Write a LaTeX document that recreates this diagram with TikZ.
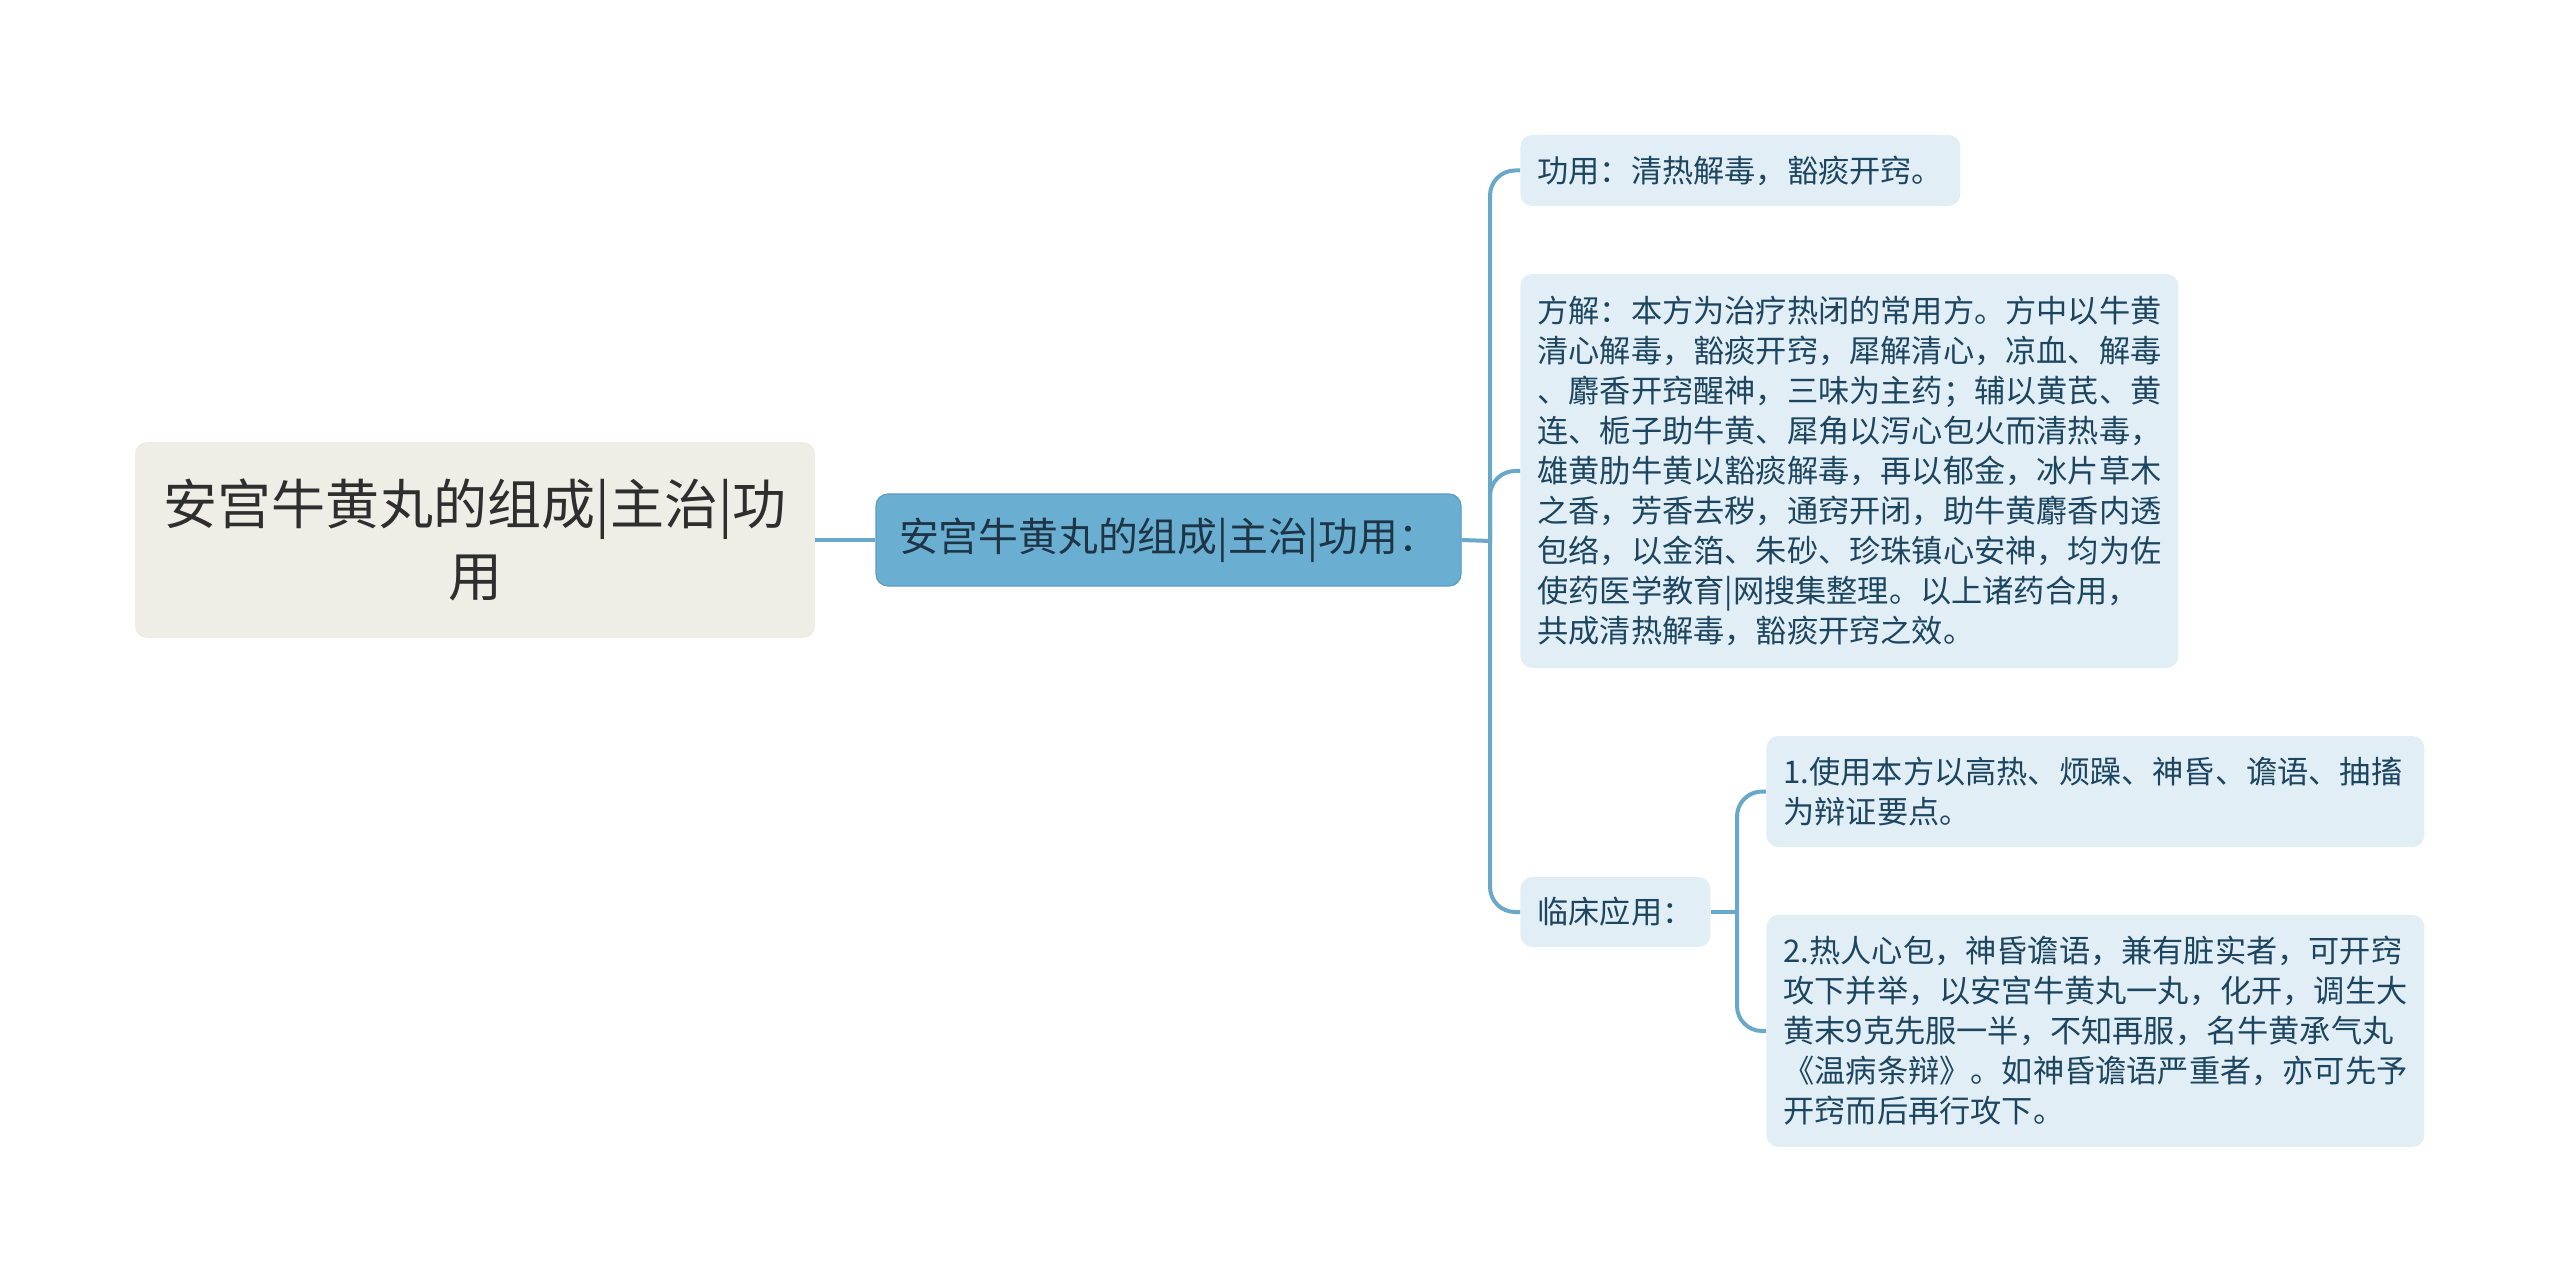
\documentclass[tikz,border=0pt]{standalone}
\usepackage{fontspec}
\setmainfont{Noto Sans CJK SC}
\usetikzlibrary{positioning}
\definecolor{rootfill}{HTML}{EEEEE6}
\definecolor{roottext}{HTML}{2E2E2E}
\definecolor{mainfill}{HTML}{6AAFD1}
\definecolor{mainedge}{HTML}{5C9DC0}
\definecolor{maintext}{HTML}{1E3546}
\definecolor{leaffill}{HTML}{E2EEF5}
\definecolor{leaftext}{HTML}{1C4560}
\definecolor{linkcol}{HTML}{6AA8CA}
\tikzset{
  rootbox/.style={fill=rootfill, text=roottext, rounded corners=6pt, align=center,
    minimum width=340pt, minimum height=98pt, font=\fontsize{27}{36}\selectfont},
  mainbox/.style={fill=mainfill, draw=mainedge, line width=0.6pt, text=maintext,
    rounded corners=6pt, minimum width=292.5pt, minimum height=46pt,
    font=\fontsize{19.9}{24}\selectfont},
  leaf/.style={fill=leaffill, text=leaftext, rounded corners=6pt, anchor=west,
    align=left, inner xsep=8.5pt, font=\fontsize{15.6}{20}\selectfont},
  link/.style={draw=linkcol, line width=2pt, rounded corners=12.5pt},
}
\begin{document}
\begin{tikzpicture}[x=0.5pt, y=-0.5pt]
  \useasboundingbox (0,0) rectangle (2560,1283);

  % Nodes
  \node[rootbox] (root) at (475,540) {安宫牛黄丸的组成|主治|功\\用};
  \node[mainbox, right=30pt of root] (main) {安宫牛黄丸的组成|主治|功用：};
  \node[leaf, text width=203pt, minimum height=35.5pt] (gy) at (1520,170.5)
    {功用：清热解毒，豁痰开窍。};
  \node[leaf, text width=312pt, minimum height=197pt] (fj) at (1520,471)
    {方解：本方为治疗热闭的常用方。方中以牛黄\\
     清心解毒，豁痰开窍，犀解清心，凉血、解毒\\
     、麝香开窍醒神，三味为主药；辅以黄芪、黄\\
     连、栀子助牛黄、犀角以泻心包火而清热毒，\\
     雄黄肋牛黄以豁痰解毒，再以郁金，冰片草木\\
     之香，芳香去秽，通窍开闭，助牛黄麝香内透\\
     包络，以金箔、朱砂、珍珠镇心安神，均为佐\\
     使药医学教育|网搜集整理。以上诸药合用，\\
     共成清热解毒，豁痰开窍之效。};
  \node[leaf, text width=78pt, minimum height=35pt] (lc) at (1520,912) {临床应用：};
  \node[leaf, text width=312pt, minimum height=55.5pt] (u1) at (1766,791.5)
    {1.使用本方以高热、烦躁、神昏、谵语、抽搐\\
     为辩证要点。};
  \node[leaf, text width=312pt, minimum height=116pt] (u2) at (1766,1031)
    {2.热人心包，神昏谵语，兼有脏实者，可开窍\\
     攻下并举，以安宫牛黄丸一丸，化开，调生大\\
     黄末9克先服一半，不知再服，名牛黄承气丸\\
     《温病条辩》。如神昏谵语严重者，亦可先予\\
     开窍而后再行攻下。};

  % Edges
  \coordinate (hub) at (1490,541);
  \coordinate (subhub) at (1737,912);
  \draw[link] (root.east) -- (main.west);
  \draw[link] (main.east) -- (hub);
  \foreach \n in {gy,fj,lc}
    \draw[link] (hub) |- (\n.west);
  \draw[link] (lc.east) -- (subhub);
  \foreach \n in {u1,u2}
    \draw[link] (subhub) |- (\n.west);

\end{tikzpicture}
\end{document}
